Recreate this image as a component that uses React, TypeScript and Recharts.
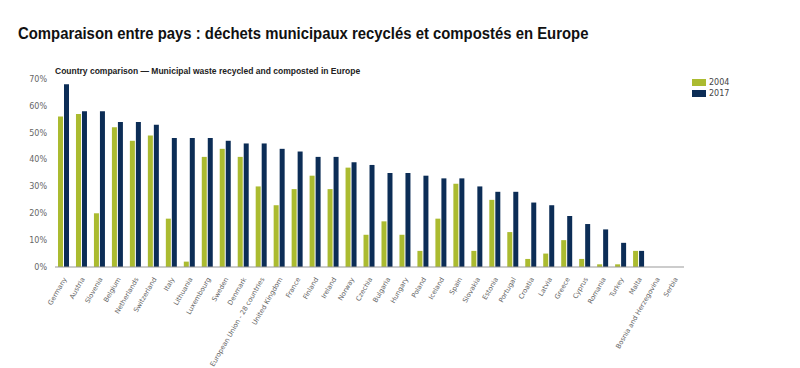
import { Bar, BarChart, XAxis, YAxis } from "recharts";

const countries = [
  "Germany", "Austria", "Slovenia", "Belgium", "Netherlands", "Switzerland",
  "Italy", "Lithuania", "Luxembourg", "Sweden", "Denmark",
  "European Union - 28 countries", "United Kingdom", "France", "Finland",
  "Ireland", "Norway", "Czechia", "Bulgaria", "Hungary", "Poland", "Iceland",
  "Spain", "Slovakia", "Estonia", "Portugal", "Croatia", "Latvia", "Greece",
  "Cyprus", "Romania", "Turkey", "Malta", "Bosnia and Herzegovina", "Serbia",
];

const values2004 = [
  56, 57, 20, 52, 47, 49, 18, 2, 41, 44, 41, 30, 23, 29, 34, 29, 37, 12, 17,
  12, 6, 18, 31, 6, 25, 13, 3, 5, 10, 3, 1, 1, 6, null, null,
];

const values2017 = [
  68, 58, 58, 54, 54, 53, 48, 48, 48, 47, 46, 46, 44, 43, 41, 41, 39, 38, 35,
  35, 34, 33, 33, 30, 28, 28, 24, 23, 19, 16, 14, 9, 6, null, null,
];

const yTicks = [0, 10, 20, 30, 40, 50, 60, 70];

const GREEN = "#abbb30";
const NAVY = "#0c2d56";

const data = countries.map((name, i) => ({
  name,
  y2004: values2004[i],
  y2017: values2017[i],
}));

function RotatedTick(props: any) {
  const { x, y, payload } = props;
  return (
    <text
      x={x + 3}
      y={y + 4}
      transform={`rotate(-60, ${x + 3}, ${y + 4})`}
      textAnchor="end"
      fontSize={6.7}
      fill="#666"
      fontFamily="DejaVu Sans, sans-serif"
    >
      {payload.value}
    </text>
  );
}

const legendItems = [
  { label: "2004", color: GREEN },
  { label: "2017", color: NAVY },
];

export default function App() {
  return (
    <div style={{ position: "relative", width: 800, height: 368, background: "#fff", overflow: "hidden" }}>
      <style>{"body{margin:0}"}</style>
      <div
        style={{
          position: "absolute",
          left: 18,
          top: 24,
          fontFamily: "Liberation Sans, Arial, sans-serif",
          fontWeight: "bold",
          fontSize: 17,
          color: "#111",
          whiteSpace: "nowrap",
          transform: "scaleX(0.875)",
          transformOrigin: "left top",
        }}
      >
        Comparaison entre pays : déchets municipaux recyclés et compostés en Europe
      </div>
      <div
        style={{
          position: "absolute",
          left: 55,
          top: 66,
          fontFamily: "Liberation Sans, Arial, sans-serif",
          fontWeight: "bold",
          fontSize: 8.5,
          color: "#222",
          whiteSpace: "nowrap",
        }}
      >
        Country comparison — Municipal waste recycled and composted in Europe
      </div>
      <div
        style={{
          position: "absolute",
          left: 692,
          top: 77,
          fontFamily: "DejaVu Sans, sans-serif",
          fontSize: 8,
          color: "#444",
        }}
      >
        {legendItems.map((it) => (
          <div key={it.label} style={{ display: "flex", alignItems: "center", height: 11 }}>
            <span style={{ display: "inline-block", width: 14, height: 7, background: it.color, marginRight: 3 }} />
            {it.label}
          </div>
        ))}
      </div>
      <div style={{ position: "absolute", left: 0, top: 0 }}>
        <BarChart
          width={800}
          height={368}
          data={data}
          margin={{ top: 79, right: 116, bottom: 1, left: 0 }}
          barSize={5}
          barGap={1}
        >
          <XAxis
            dataKey="name"
            interval={0}
            height={100}
            tickLine={false}
            axisLine={{ stroke: "#999" }}
            tick={<RotatedTick />}
          />
          <YAxis
            width={55}
            domain={[0, 70]}
            ticks={yTicks}
            tickFormatter={(v: number) => `${v}%`}
            axisLine={false}
            tickLine={false}
            tick={{ fontSize: 8, fill: "#666", fontFamily: "DejaVu Sans, sans-serif" }}
          />
          <Bar dataKey="y2004" name="2004" fill={GREEN} isAnimationActive={false} />
          <Bar dataKey="y2017" name="2017" fill={NAVY} isAnimationActive={false} />
        </BarChart>
      </div>
    </div>
  );
}
